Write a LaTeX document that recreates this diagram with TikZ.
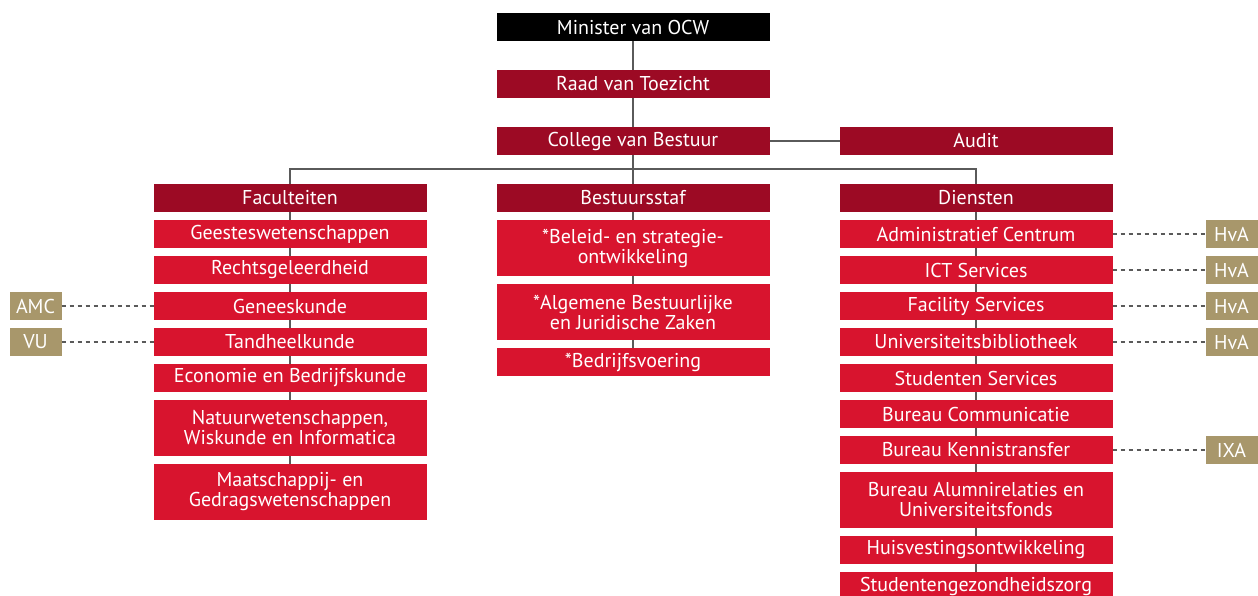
\documentclass[tikz,border=0pt]{standalone}
\usepackage{fontspec}
\setmainfont{PT Sans}
\usepackage{xcolor}
\usetikzlibrary{positioning}
\definecolor{uvadark}{HTML}{9C0A24}
\definecolor{uvared}{HTML}{D8142E}
\definecolor{uvatan}{HTML}{A8976B}
\definecolor{linegray}{HTML}{5A5A5A}
\tikzset{
  box/.style={minimum width=136.5pt, minimum height=14pt, inner sep=0pt, outer sep=0pt,
    text=white, align=center, font=\fontsize{10}{10}\selectfont},
  head/.style={box, fill=uvadark},
  unit/.style={box, fill=uvared},
  unittwo/.style={unit, minimum height=28pt},
  partner/.style={fill=uvatan, text=white, minimum width=26pt, minimum height=14pt,
    inner sep=0pt, outer sep=0pt, font=\fontsize{10}{10}\selectfont},
  link/.style={draw=linegray, line width=0.75pt},
  dashlink/.style={link, dash pattern=on 2pt off 2pt}
}
\begin{document}
\begin{tikzpicture}[node distance=4pt]
  \useasboundingbox[fill=white] (0,0) rectangle (629pt,-297.5pt);
  \node[box, fill=black] (min) at (316.5pt,-13.5pt) {Minister van OCW};
  \node[head, below=14.5pt of min] (raad) {Raad van Toezicht};
  \node[head, below=14.5pt of raad] (cvb) {College van Bestuur};
  \node[head, right=35pt of cvb] (audit) {Audit};
  \node[head, below=14.5pt of cvb] (staf) {Bestuursstaf};
  \node[head, left=35pt of staf] (fac) {Faculteiten};
  \node[head, right=35pt of staf] (dien) {Diensten};

  \node[unit, below=of fac] (gw) {Geesteswetenschappen};
  \node[unit, below=of gw] (rg) {Rechtsgeleerdheid};
  \node[unit, below=of rg] (gk) {Geneeskunde};
  \node[unit, below=of gk] (tk) {Tandheelkunde};
  \node[unit, below=of tk] (eb) {Economie en Bedrijfskunde};
  \node[unittwo, below=of eb] (nwi) {Natuurwetenschappen,\\Wiskunde en Informatica};
  \node[unittwo, below=of nwi] (mg) {Maatschappij- en\\Gedragswetenschappen};

  \node[unittwo, below=of staf] (bso) {*Beleid- en strategie-\\ontwikkeling};
  \node[unittwo, below=of bso] (abjz) {*Algemene Bestuurlijke\\en Juridische Zaken};
  \node[unit, below=of abjz] (bv) {*Bedrijfsvoering};

  \node[unit, below=of dien] (ac) {Administratief Centrum};
  \node[unit, below=of ac] (ict) {ICT Services};
  \node[unit, below=of ict] (fs) {Facility Services};
  \node[unit, below=of fs] (ub) {Universiteitsbibliotheek};
  \node[unit, below=of ub] (ss) {Studenten Services};
  \node[unit, below=of ss] (bc) {Bureau Communicatie};
  \node[unit, below=of bc] (bk) {Bureau Kennistransfer};
  \node[unittwo, below=of bk] (bau) {Bureau Alumnirelaties en\\Universiteitsfonds};
  \node[unit, below=of bau] (hv) {Huisvestingsontwikkeling};
  \node[unit, below=of hv] (sgz) {Studentengezondheidszorg};

  \node[partner, left=46pt of gk] (amc) {AMC};
  \node[partner, left=46pt of tk] (vu) {VU};
  \node[partner, right=46.5pt of ac] (hva1) {HvA};
  \node[partner, right=46.5pt of ict] (hva2) {HvA};
  \node[partner, right=46.5pt of fs] (hva3) {HvA};
  \node[partner, right=46.5pt of ub] (hva4) {HvA};
  \node[partner, right=46.5pt of bk] (ixa) {IXA};

  \draw[link] (min) -- (raad);
  \draw[link] (raad) -- (cvb);
  \draw[link] (cvb) -- (audit);
  \draw[link] (cvb) -- (staf);
  \draw[link] (fac.north) -- ++(0,7.5pt) -| (dien.north);
  \foreach \a/\b in {fac/gw, gw/rg, rg/gk, gk/tk, tk/eb, eb/nwi, nwi/mg,
      staf/bso, bso/abjz, abjz/bv,
      dien/ac, ac/ict, ict/fs, fs/ub, ub/ss, ss/bc, bc/bk, bk/bau, bau/hv, hv/sgz}
    \draw[link] (\a) -- (\b);
  \foreach \a/\b in {amc/gk, vu/tk, ac/hva1, ict/hva2, fs/hva3, ub/hva4, bk/ixa}
    \draw[dashlink] (\a) -- (\b);
\end{tikzpicture}
\end{document}
